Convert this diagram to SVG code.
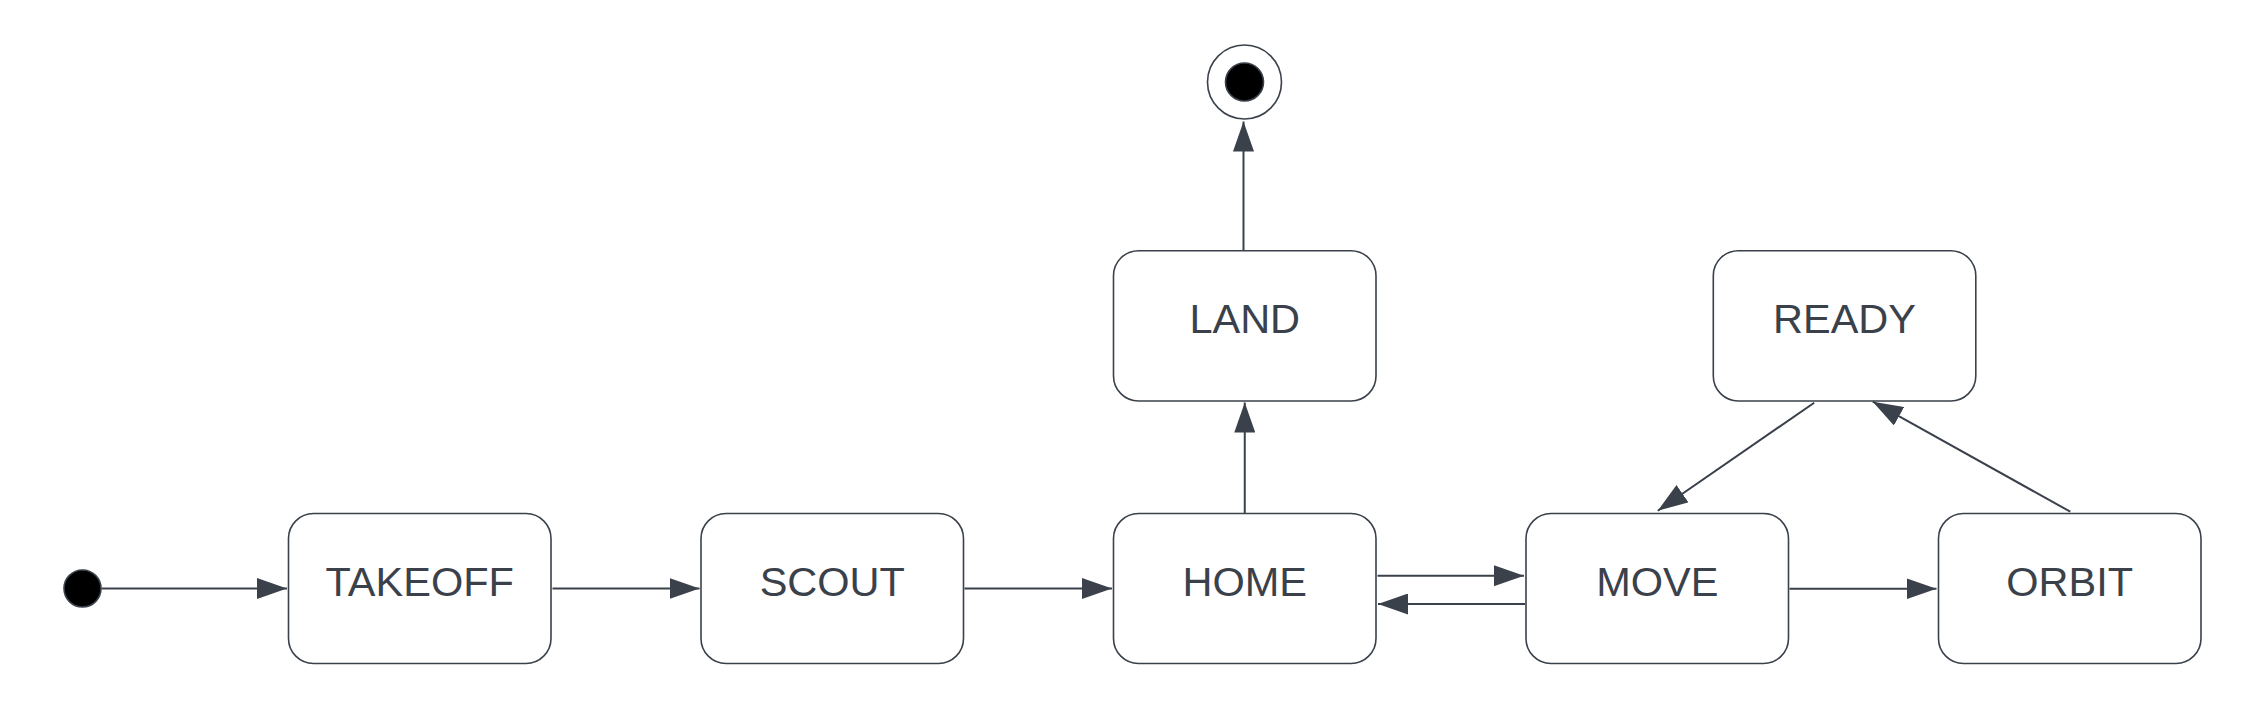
<svg xmlns="http://www.w3.org/2000/svg" width="2263" height="724" viewBox="0 0 2263 724">
<style>
.box{fill:#ffffff;stroke:#3a414a;stroke-width:1.6}
.lbl{font-family:"Liberation Sans",Arial,sans-serif;font-size:41.5px;fill:#3a414a;text-anchor:middle}
.edge{fill:none;stroke:#3a414a;stroke-width:2;marker-end:url(#ah)}
</style>
<defs>
<marker id="ah" markerUnits="userSpaceOnUse" markerWidth="31" markerHeight="21" refX="30" refY="10.5" orient="auto">
<path d="M0,0 L30,10.5 L0,21 Z" fill="#3a414a"/>
</marker>
</defs>
<rect width="2263" height="724" fill="#ffffff"/>
<g id="start"><circle cx="82.5" cy="588.5" r="18.5" fill="#000000" stroke="#3a414a" stroke-width="1.6"/></g>
<g id="end"><circle cx="1244.5" cy="82" r="37" fill="#ffffff" stroke="#3a414a" stroke-width="1.6"/><circle cx="1244.5" cy="82" r="19" fill="#000000" stroke="#3a414a" stroke-width="1.6"/></g>
<g id="takeoff"><rect class="box" x="288.5" y="513.5" width="262.5" height="150" rx="25"/><text class="lbl" x="419.75" y="596">TAKEOFF</text></g>
<g id="scout"><rect class="box" x="701" y="513.5" width="262.5" height="150" rx="25"/><text class="lbl" x="832.25" y="596">SCOUT</text></g>
<g id="home"><rect class="box" x="1113.5" y="513.5" width="262.5" height="150" rx="25"/><text class="lbl" x="1244.75" y="596">HOME</text></g>
<g id="move"><rect class="box" x="1526" y="513.5" width="262.5" height="150" rx="25"/><text class="lbl" x="1657.25" y="596">MOVE</text></g>
<g id="orbit"><rect class="box" x="1938.5" y="513.5" width="262.5" height="150" rx="25"/><text class="lbl" x="2069.75" y="596">ORBIT</text></g>
<g id="land"><rect class="box" x="1113.5" y="250.7" width="262.5" height="150.3" rx="25"/><text class="lbl" x="1244.75" y="333.3">LAND</text></g>
<g id="ready"><rect class="box" x="1713.3" y="250.7" width="262.5" height="150.3" rx="25"/><text class="lbl" x="1844.5" y="333.3">READY</text></g>
<g id="connectors">
<path class="edge" d="M101.5,588.5 H287"/>
<path class="edge" d="M552.5,588.5 H699.5"/>
<path class="edge" d="M964.5,588.5 H1112"/>
<path class="edge" d="M1244.75,513 V402.5"/>
<path class="edge" d="M1243.5,250 V121.5"/>
<path class="edge" d="M1377.5,575.7 H1524"/>
<path class="edge" d="M1525,604 H1378"/>
<path class="edge" d="M1789.5,588.7 H1936.5"/>
<path class="edge" d="M1814.2,402.7 L1657.8,510.7"/>
<path class="edge" d="M2070.3,511.7 L1872.8,401.7"/>
</g>
</svg>
